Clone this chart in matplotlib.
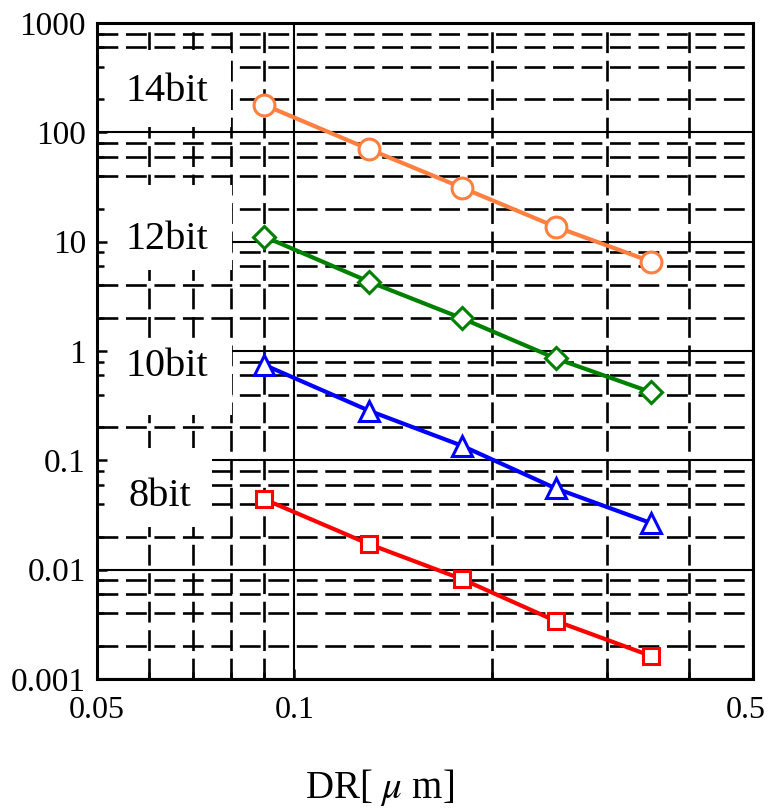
import matplotlib
matplotlib.use("Agg")
import matplotlib.pyplot as plt
import matplotlib.transforms as mtransforms
from matplotlib.patches import Rectangle

plt.rcParams['font.family'] = ['Liberation Serif', 'DejaVu Serif']
plt.rcParams['mathtext.fontset'] = 'stix'
plt.rcParams['lines.scale_dashes'] = False

dr = [0.09, 0.13, 0.18, 0.25, 0.35]
bit14 = [178, 70, 31.2, 13.7, 6.56]
bit12 = [11.1, 4.30, 1.99, 0.857, 0.419]
bit10 = [0.745, 0.284, 0.136, 0.0555, 0.0266]
bit8 = [0.044, 0.0171, 0.0082, 0.0034, 0.00162]

x_major = [0.05, 0.1, 0.5]
x_major_labels = ["0.05", "0.1", "0.5"]
x_minor = [0.06, 0.07, 0.08, 0.09, 0.2, 0.3, 0.4]
y_major = [0.001, 0.01, 0.1, 1, 10, 100, 1000]
y_major_labels = ["0.001", "0.01", "0.1", "1", "10", "100", "1000"]
y_minor = [m * d for d in [0.001, 0.01, 0.1, 1, 10, 100] for m in (2, 4, 6, 8)]

fig = plt.figure(figsize=(7.69, 8.09), dpi=100)
ax = fig.add_axes([97 / 769, 1 - 679 / 809, 656 / 769, 656 / 809])
ax.set_xscale('log')
ax.set_yscale('log')
ax.set_xlim(0.05, 0.5)
ax.set_ylim(0.001, 1000)

# grid drawn by hand so the label boxes can sit between grid and ticks
dash = (0, (15, 5.5))
for v in x_major:
    ax.axvline(v, color='k', lw=1.5, zorder=0.6)
for v in x_minor:
    ax.axvline(v, color='k', lw=1.9, ls=dash, zorder=0.6)
for v in y_major:
    ax.axhline(v, color='k', lw=1.5, zorder=0.6)
for v in y_minor:
    ax.axhline(v, color='k', lw=1.9, ls=dash, zorder=0.6)

# white label boxes (axes fraction)
boxes = [(0.0, 0.841, 0.204, 0.118, "14bit", 0.107, 0.895),
         (0.0, 0.623, 0.206, 0.130, "12bit", 0.107, 0.670),
         (0.0, 0.402, 0.206, 0.115, "10bit", 0.107, 0.477),
         (0.0, 0.232, 0.175, 0.120, "8bit", 0.096, 0.278)]
for bx, by, bw, bh, lab, tx, ty in boxes:
    ax.add_patch(Rectangle((bx, by), bw, bh, transform=ax.transAxes,
                           facecolor='white', edgecolor='none', zorder=1))
    ax.text(tx, ty, lab, transform=ax.transAxes, fontsize=29,
            ha='center', va='center', zorder=3)

ax.plot(dr, bit14, color='#ff7f3f', lw=3, marker='o', ms=15, mfc='white', mew=2.2, zorder=2)
ax.plot(dr, bit12, color='#008000', lw=3, marker='D', ms=11, mfc='white', mew=2.2, zorder=2)
ax.plot(dr, bit10, color='#0000ff', lw=3, marker='^', ms=14, mfc='white', mew=2.2, zorder=2)
ax.plot(dr, bit8, color='#ff0000', lw=3, marker='s', ms=11, mfc='white', mew=2.2, zorder=2)

ax.set_xticks(x_major)
ax.set_xticklabels(x_major_labels)
ax.set_xticks(x_minor, minor=True)
ax.set_xticklabels([], minor=True)
ax.set_yticks(y_major)
ax.set_yticklabels(y_major_labels)
ax.set_yticks(y_minor, minor=True)
ax.set_yticklabels([], minor=True)
ax.tick_params(which='both', direction='in', width=1.8, color='k')
ax.tick_params(which='major', length=7)
ax.tick_params(which='minor', length=5)
ax.tick_params(axis='y', labelsize=24, pad=8)
ax.tick_params(axis='x', labelsize=23, pad=12)
last = ax.get_xticklabels()[-1]
last.set_transform(last.get_transform() +
                   mtransforms.ScaledTranslation(-7 / 100, 0, fig.dpi_scale_trans))

for s in ax.spines.values():
    s.set_linewidth(2.2)
    s.set_zorder(2.5)

ax.set_xlabel(r"DR[ $\mu$ m]", fontsize=28, va='center')
ax.xaxis.set_label_coords(0.43, -0.165)

fig.savefig("out.png", dpi=100)
